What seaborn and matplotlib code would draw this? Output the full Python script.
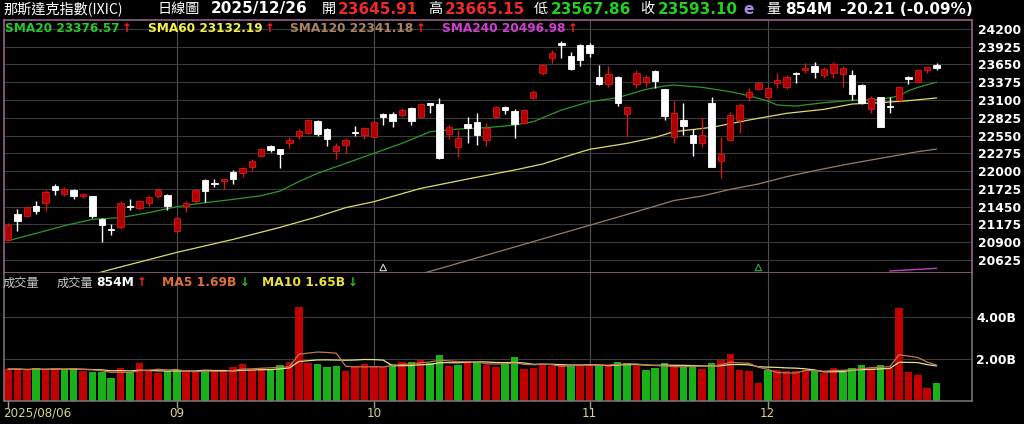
import matplotlib
matplotlib.use('Agg')
import matplotlib.pyplot as plt
import numpy as np
import pandas as pd
import seaborn as sns

# daily candles 2025/08/06 .. 2025/12/26 (100 trading days)
opens = [20934, 21331, 21311, 21465, 21501, 21770, 21646, 21702, 21615, 21610,
         21259, 21109, 21130, 21465, 21434, 21501, 21615, 21630, 21073, 21465,
         21537, 21862, 21806, 21852, 21986, 21976, 22069, 22234, 22394, 22337,
         22430, 22543, 22595, 22780, 22657, 22316, 22404, 22600, 22559, 22522,
         22878, 22878, 22873, 22976, 22842, 23048, 23038, 22569, 22368, 22729,
         22755, 22481, 22832, 22987, 22935, 22744, 23131, 23513, 23745, 23977,
         23786, 23951, 23951, 23461, 23348, 23461, 22883, 23348, 23384, 23554,
         23265, 22533, 22791, 22559, 22440, 23059, 22161, 22481, 22791, 23141,
         23275, 23152, 23358, 23296, 23523, 23564, 23626, 23487, 23523, 23502,
         23487, 23332, 22956, 23141, 23007, 23100, 23451, 23384, 23564, 23645.91]
highs = [21192, 21414, 21450, 21543, 21708, 21800, 21749, 21723, 21656, 21620,
         21269, 21176, 21537, 21563, 21553, 21615, 21739, 21641, 21295, 21537,
         21718, 21878, 21873, 21878, 22017, 22058, 22182, 22357, 22404, 22342,
         22533, 22657, 22801, 22791, 22667, 22430, 22507, 22703, 22677, 22765,
         22904, 22920, 22976, 22997, 23048, 23059, 23126, 22713, 22636, 22842,
         22894, 22739, 23007, 23007, 22956, 22956, 23255, 23657, 23874, 24013,
         23848, 23961, 23977, 23641, 23626, 23471, 23007, 23564, 23487, 23564,
         23275, 23085, 23059, 22646, 22816, 23141, 22522, 22920, 23048, 23281,
         23384, 23306, 23523, 23487, 23528, 23678, 23683, 23605, 23693, 23626,
         23564, 23342, 23162, 23152, 23152, 23317, 23471, 23574, 23616, 23665.15]
lows = [20924, 21079, 21285, 21342, 21388, 21635, 21620, 21563, 21579, 21280,
        20898, 21017, 21099, 21398, 21398, 21465, 21579, 21398, 21053, 21372,
        21512, 21527, 21759, 21718, 21800, 21914, 22017, 22213, 22301, 22053,
        22352, 22492, 22574, 22543, 22388, 22182, 22275, 22543, 22492, 22507,
        22718, 22688, 22832, 22713, 22832, 22894, 22182, 22492, 22213, 22430,
        22404, 22388, 22816, 22883, 22507, 22729, 23115, 23487, 23667, 23745,
        23564, 23626, 23760, 23332, 23296, 23007, 22543, 23281, 23306, 23281,
        22791, 22430, 22559, 22234, 22378, 22058, 21888, 22471, 22584, 23090,
        23255, 23100, 23281, 23265, 23368, 23513, 23435, 23435, 23435, 23296,
        23100, 23038, 22904, 22677, 22894, 23085, 23348, 23358, 23513, 23567.86]
closes = [21166, 21233, 21440, 21383, 21677, 21702, 21718, 21615, 21641, 21311,
          21171, 21094, 21501, 21450, 21543, 21594, 21713, 21460, 21280, 21507,
          21702, 21697, 21795, 21873, 21878, 22043, 22151, 22342, 22327, 22259,
          22476, 22626, 22791, 22574, 22492, 22388, 22481, 22584, 22662, 22755,
          22842, 22775, 22950, 22780, 23038, 23017, 22198, 22688, 22517, 22662,
          22559, 22667, 22997, 22945, 22729, 22940, 23224, 23636, 23832, 23951,
          23574, 23719, 23822, 23342, 23502, 23048, 22997, 23523, 23461, 23399,
          22858, 22904, 22698, 22430, 22559, 22069, 22265, 22863, 23023, 23219,
          23368, 23281, 23409, 23461, 23502, 23590, 23538, 23574, 23657, 23595,
          23188, 23059, 23126, 22688, 22992, 23306, 23420, 23564, 23613.31, 23593.10]

# volume in billions, and whether the bar is drawn red (1) or green (0)
volumes = [1.52, 1.52, 1.46, 1.55, 1.49, 1.58, 1.49, 1.55, 1.42, 1.39,
           1.36, 1.09, 1.57, 1.39, 1.81, 1.46, 1.33, 1.42, 1.47, 1.38,
           1.39, 1.44, 1.41, 1.42, 1.60, 1.74, 1.49, 1.55, 1.52, 1.73,
           1.84, 4.50, 1.81, 1.78, 1.63, 1.65, 1.41, 1.65, 1.78, 1.66,
           1.62, 1.78, 1.87, 1.87, 1.97, 1.81, 2.21, 1.68, 1.73, 1.89,
           1.86, 1.70, 1.62, 1.78, 2.10, 1.54, 1.58, 1.74, 1.68, 1.71,
           1.68, 1.73, 1.68, 1.73, 1.73, 1.87, 1.82, 1.68, 1.49, 1.58,
           1.79, 1.65, 1.62, 1.65, 1.54, 1.82, 1.97, 2.26, 1.49, 1.44,
           0.88, 1.46, 1.49, 1.42, 1.41, 1.49, 1.44, 1.33, 1.58, 1.49,
           1.58, 1.71, 1.57, 1.71, 1.58, 4.45, 1.39, 1.23, 0.62, 0.854]
vol_red = [1, 1, 1, 0, 1, 1, 0, 0, 1, 0,
           0, 0, 1, 0, 1, 1, 1, 0, 0, 1,
           1, 0, 1, 1, 1, 1, 1, 1, 0, 0,
           1, 1, 1, 0, 0, 0, 1, 1, 1, 1,
           1, 0, 1, 0, 1, 0, 0, 1, 0, 1,
           0, 1, 1, 0, 0, 1, 1, 1, 1, 1,
           0, 1, 1, 0, 1, 0, 0, 1, 0, 0,
           0, 1, 0, 0, 1, 0, 1, 1, 1, 1,
           1, 0, 1, 1, 1, 1, 0, 1, 1, 0,
           0, 0, 1, 0, 1, 1, 1, 1, 1, 0]

sma20_idx = [0, 3, 6, 9, 12, 15, 18, 21, 24, 27, 29, 31, 33, 36, 39, 42, 45, 48, 51, 54,
             56, 59, 62, 65, 68, 70, 71, 74, 77, 79, 81, 82, 84, 87, 90, 93, 95, 96, 97, 99]
sma20_val = [20924, 21037, 21156, 21254, 21280, 21357, 21450, 21512, 21563, 21620,
             21692, 21837, 21966, 22120, 22275, 22430, 22610, 22651, 22672, 22713,
             22765, 22945, 23074, 23136, 23265, 23317, 23332, 23296, 23229, 23167,
             23085, 23023, 23007, 23059, 23095, 23110, 23162, 23244, 23296, 23376.57]
sma60_idx = [9, 11, 18, 24, 29, 33, 36, 39, 44, 49, 54, 57, 60, 62, 66, 69, 71, 75, 79, 83,
             87, 90, 93, 96, 99]
sma60_val = [20400, 20480, 20743, 20944, 21130, 21295, 21435, 21527, 21733, 21878,
             22017, 22110, 22249, 22337, 22430, 22522, 22610, 22677, 22791, 22894,
             22956, 23038, 23059, 23090, 23132.19]
sma120_idx = [44, 46, 51, 56, 61, 66, 71, 74, 77, 80, 83, 86, 89, 92, 95, 97, 99]
sma120_val = [20410, 20491, 20700, 20910, 21120, 21330, 21545, 21615, 21718, 21801,
              21914, 22007, 22094, 22172, 22249, 22301, 22341.18]
sma240_idx = [94, 97, 99]
sma240_val = [20455, 20480, 20496.98]

first_label = '2025/08/06'
month_idx = [18, 39, 62, 81]
month_labels = ['09', '10', '11', '12']
price_ticks = list(range(20625, 24201, 275))
marker_idx = [40, 80]

W, H = 1024, 424
RED_BODY = '#b00000'
RED_EDGE = '#d81818'
VOL_RED = '#c20000'
VOL_GREEN = '#19b019'

sns.set_theme(style='dark')
plt.rcParams['font.family'] = ['DejaVu Sans']
CJK = ['Noto Sans CJK TC', 'DejaVu Sans']

fig = plt.figure(figsize=(W / 100, H / 100), dpi=100, facecolor='black')


def box(x0, y0, x1, y1):
    return [x0 / W, 1 - y1 / H, (x1 - x0) / W, (y1 - y0) / H]


ax = fig.add_axes(box(4, 20, 972, 273))
axv = fig.add_axes(box(4, 273, 972, 401))
for a in (ax, axv):
    a.set_facecolor('black')

xlim = ((4 - 8) / 9.38, (972 - 8) / 9.38)

# ---- price panel
df = pd.DataFrame({'open': opens, 'high': highs, 'low': lows, 'close': closes})
df['i'] = np.arange(len(df))
df['up'] = df['close'] >= df['open']
lo = df[['open', 'close']].min(axis=1)
ht = (df['close'] - df['open']).abs().clip(lower=16)

for x in month_idx:
    ax.axvline(x, color='#505050', lw=0.8, zorder=0)
    axv.axvline(x, color='#505050', lw=0.8, zorder=0)

ax.vlines(df['i'], df['low'], df['high'],
          colors=np.where(df['up'], RED_EDGE, 'white'), lw=1, zorder=3)
ax.bar(df['i'], ht, bottom=lo, width=0.68,
       color=np.where(df['up'], RED_BODY, 'white'),
       edgecolor=np.where(df['up'], RED_EDGE, 'white'), linewidth=0.6, zorder=4)

sns.lineplot(x=sma20_idx, y=sma20_val, ax=ax, color='#2a9a2a', lw=0.9, zorder=2)
sns.lineplot(x=sma60_idx, y=sma60_val, ax=ax, color='#dcdc66', lw=0.9, zorder=2)
sns.lineplot(x=sma120_idx, y=sma120_val, ax=ax, color='#9c7c62', lw=0.9, zorder=2)
sns.lineplot(x=sma240_idx, y=sma240_val, ax=ax, color='#c040c0', lw=1.0, zorder=2)

ax.scatter(marker_idx, [0.022, 0.022], transform=ax.get_xaxis_transform(),
           marker='^', s=22, facecolors='none', edgecolors=['#d8d8c8', '#3aa83a'],
           linewidths=0.8, zorder=5)

ax.set_xlim(xlim)
ax.set_ylim(20424, 24338)
ax.set_yticks(price_ticks)
ax.set_yticklabels([str(t) for t in price_ticks])
ax.yaxis.tick_right()
ax.tick_params(axis='y', length=0, pad=4, labelcolor='white', labelsize=8.9)
for t in ax.get_yticklabels():
    t.set_fontweight('bold')
ax.set_xticks([])
ax.grid(axis='y', color='#3a3a3a', lw=0.8)
ax.grid(axis='x', visible=False)
ax.set_xlabel('')
ax.set_ylabel('')
for s in ax.spines.values():
    s.set_visible(True)
    s.set_color('#8a5a7c')
    s.set_linewidth(1.3)

# ---- volume panel
vdf = pd.DataFrame({'i': np.arange(len(volumes)), 'vol': volumes,
                    'dir': ['up' if r else 'down' for r in vol_red]})
sns.barplot(data=vdf, x='i', y='vol', hue='dir', native_scale=True, dodge=False,
            palette={'up': VOL_RED, 'down': VOL_GREEN}, width=0.8, saturation=1,
            errorbar=None, legend=False, linewidth=0, ax=axv, zorder=2)
vol_s = pd.Series(volumes)
sns.lineplot(x=vdf['i'], y=vol_s.rolling(10, min_periods=1).mean(), ax=axv,
             color='#e6e08a', lw=0.9, zorder=3)
sns.lineplot(x=vdf['i'], y=vol_s.rolling(5, min_periods=1).mean(), ax=axv,
             color='#c07850', lw=0.9, zorder=3)

axv.set_xlim(xlim)
axv.set_ylim(0, 128 / 21)
axv.set_yticks([2, 4])
axv.set_yticklabels(['2.00B', '4.00B'])
axv.yaxis.tick_right()
axv.tick_params(axis='y', length=0, pad=3, labelcolor='white', labelsize=8.9)
for t in axv.get_yticklabels():
    t.set_fontweight('bold')
axv.grid(axis='y', color='#3a3a3a', lw=0.8)
axv.grid(axis='x', visible=False)
axv.set_xticks([0] + month_idx)
axv.set_xticklabels([])
axv.tick_params(axis='x', length=5, width=1, color='#9a9a9a', direction='out', bottom=True)
axv.set_xlabel('')
axv.set_ylabel('')
for k, s in axv.spines.items():
    s.set_visible(k != 'top')
    s.set_color('#7a7a7a')
    s.set_linewidth(1.1)

lab_tf = axv.get_xaxis_transform()
axv.text(-0.55, -0.095, first_label, transform=lab_tf, ha='left', va='center',
         color='#d6d68a', fontsize=8.6)
for x, s in zip(month_idx, month_labels):
    axv.text(x, -0.095, s, transform=lab_tf, ha='center', va='center',
             color='#d6d68a', fontsize=8.6)

# ---- header texts
renderer = fig.canvas.get_renderer()


def put(x, y, s, color, size, bold=False, family=None):
    t = fig.text(x / W, 1 - y / H, s, color=color, fontsize=size,
                 fontweight='bold' if bold else 'normal',
                 family=family or ['DejaVu Sans'], ha='left', va='center')
    return x + t.get_window_extent(renderer).width


RED_T = '#ee2a2a'
GREEN_T = '#22d022'
put(3, 9, '那斯達克指數(IXIC)', 'white', 10.2, family=CJK)
put(158, 9, '日線圖', 'white', 10.2, family=CJK)
put(211, 9, '2025/12/26', 'white', 11, bold=True)
put(322, 9, '開', 'white', 10.2, family=CJK)
put(338, 9, f'{opens[-1]:.2f}', RED_T, 11, bold=True)
put(428, 9, '高', 'white', 10.2, family=CJK)
put(445, 9, f'{highs[-1]:.2f}', RED_T, 11, bold=True)
put(534, 9, '低', 'white', 10.2, family=CJK)
put(551, 9, f'{lows[-1]:.2f}', GREEN_T, 11, bold=True)
put(640, 9, '收', 'white', 10.2, family=CJK)
put(658, 9, f'{closes[-1]:.2f}', GREEN_T, 11, bold=True)
put(743, 9, 'e', '#a58be6', 11, bold=True)
put(766, 9, '量', 'white', 10.2, family=CJK)
put(785, 9, f'{volumes[-1] * 1000:.0f}M', 'white', 11, bold=True)
chg = closes[-1] - closes[-2]
put(840, 9, f'{chg:.2f} ({chg / closes[-2] * 100:.2f}%)', 'white', 11, bold=True)

legend = [(5, 'SMA20', sma20_val[-1], '#28c828'), (148, 'SMA60', sma60_val[-1], '#f2f24a'),
          (290, 'SMA120', sma120_val[-1], '#aa8462'), (442, 'SMA240', sma240_val[-1], '#d040d0')]
for x, name, v, c in legend:
    end = put(x, 29, f'{name} {v:.2f}', c, 8.7, bold=True)
    put(end + 2, 29, '↑', '#ff2020', 8.5, bold=True)

put(3, 283, '成交量', '#c8c8c8', 8.8, family=CJK)
put(57, 283, '成交量', '#c8c8c8', 8.8, family=CJK)
end = put(96, 283, f'{volumes[-1] * 1000:.0f}M', 'white', 8.8, bold=True)
put(end + 3, 283, '↑', '#ff2020', 8.5, bold=True)
end = put(162, 283, 'MA5 1.69B', '#e0703a', 8.8, bold=True)
put(end + 3, 283, '↓', '#22c822', 8.5, bold=True)
end = put(262, 283, 'MA10 1.65B', '#e8e040', 8.8, bold=True)
put(end + 3, 283, '↓', '#22c822', 8.5, bold=True)

fig.savefig('out.png', dpi=100, facecolor='black')
